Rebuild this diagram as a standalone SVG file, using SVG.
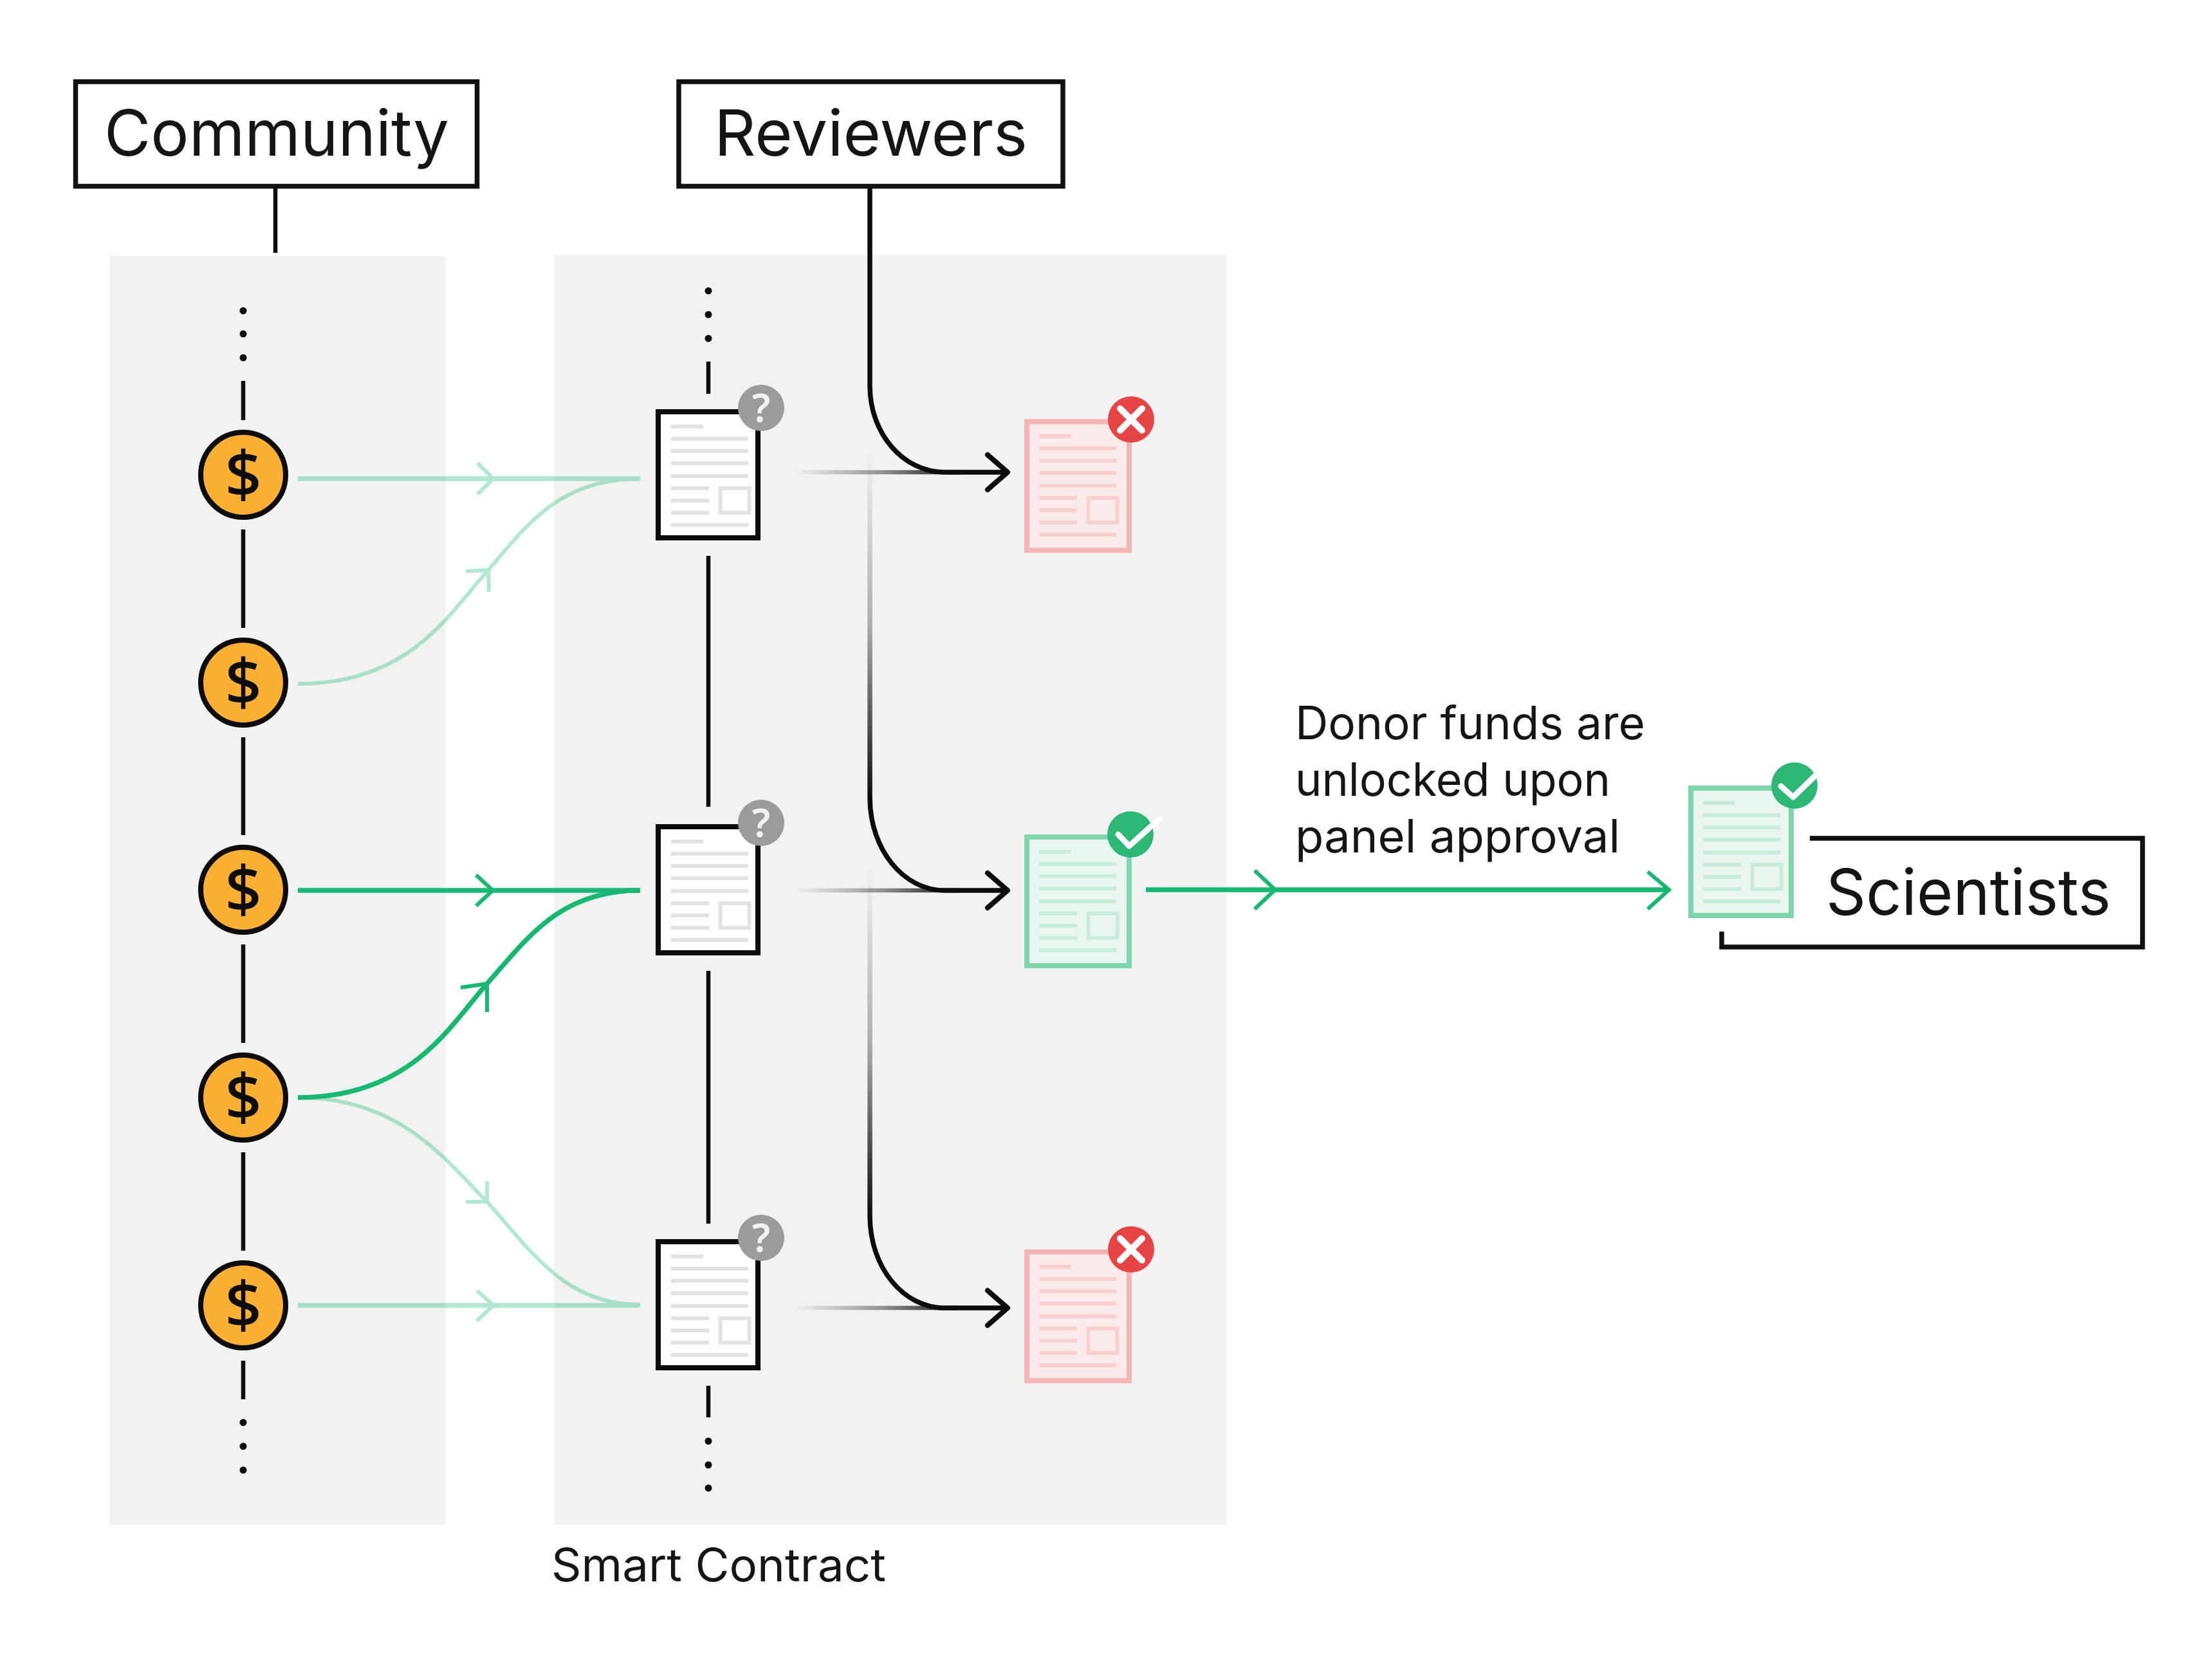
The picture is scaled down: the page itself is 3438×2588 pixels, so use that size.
<svg xmlns="http://www.w3.org/2000/svg" width="3438" height="2588" viewBox="0 0 3438 2588">
<style>
text{font-family:"Inter","Noto Sans",sans-serif;fill:#151515}
.big{font-size:99px}
.mid{font-size:71px}
.box{fill:#fff;stroke:#111;stroke-width:7.500}
.open{fill:none;stroke:#111;stroke-width:7.500}
.panel{fill:#f2f2f2}
.blk{fill:none;stroke:#0c0c0c;stroke-width:7.500}
.head{fill:none;stroke:#0c0c0c;stroke-width:8;stroke-linecap:round;stroke-linejoin:round}
.link{fill:none;stroke:#0c0c0c;stroke-width:6.500}
.dot{fill:#0c0c0c}
.grn{fill:none;stroke:#19b872;stroke-width:7.500}
.thin{stroke-width:6}
.grnhead{fill:none;stroke:#19b872;stroke-width:6}
.coin{fill:#fbb034;stroke:#0c0c0c;stroke-width:8}
.dollar{font-family:"Noto Sans",sans-serif;font-size:100px;font-weight:500;text-anchor:middle;fill:#0c0c0c}
.q{font-family:"Noto Sans",sans-serif;font-size:62px;font-weight:600;text-anchor:middle;fill:#f1f1f1}
.dw{fill:#fff;stroke:#0c0c0c;stroke-width:8}
.dr{fill:#fbeaea;stroke:#f6b5b5;stroke-width:8}
.dg{fill:#e8f6ef;stroke:#7fd5ab;stroke-width:8}
.lw{stroke:#e2e2e2}
.lr{stroke:#f9d0d0}
.lg{stroke:#c9ecd9}
.wm{fill:none;stroke:#fff;stroke-linecap:round;stroke-linejoin:round}
</style>
<defs>
<g id="lines" fill="none" stroke-width="6">
<path d="M22 26H72M22 45H142M22 64H142M22 83H142M22 103H142M22 122H81M22 141H81M22 160H81M22 179H142"/>
<rect x="98.500" y="122" width="45" height="38"/>
</g>
<linearGradient id="fh1" gradientUnits="userSpaceOnUse" x1="1235" y1="0" x2="1500" y2="0"><stop offset="0" stop-color="#0c0c0c" stop-opacity="0"/><stop offset=".5" stop-color="#0c0c0c" stop-opacity=".4"/><stop offset="1" stop-color="#0c0c0c"/></linearGradient>
<linearGradient id="fv1" gradientUnits="userSpaceOnUse" x1="0" y1="700" x2="0" y2="1240"><stop offset="0" stop-color="#0c0c0c" stop-opacity="0"/><stop offset=".5" stop-color="#0c0c0c" stop-opacity=".3"/><stop offset="1" stop-color="#0c0c0c"/></linearGradient>
<linearGradient id="fv2" gradientUnits="userSpaceOnUse" x1="0" y1="1350" x2="0" y2="1890"><stop offset="0" stop-color="#0c0c0c" stop-opacity="0"/><stop offset=".5" stop-color="#0c0c0c" stop-opacity=".3"/><stop offset="1" stop-color="#0c0c0c"/></linearGradient>
</defs>
<rect width="3438" height="2588" fill="#fff"/>
<rect class="panel" x="170" y="398" width="523" height="1972"/>
<rect class="panel" x="861" y="396" width="1045" height="1974"/>

<g id="connectors">
<path class="link" d="M428 293V393"/>
<path class="link" d="M378 592V653M378 823V976M378 1146V1298M378 1468V1621M378 1791V1944M378 2115V2175"/>
<path class="link" d="M1101 562V612M1101 864V1254M1101 1509V1902M1101 2154V2203"/>
<g class="dot">
<circle cx="378" cy="483" r="5.500"/><circle cx="378" cy="519" r="5.500"/><circle cx="378" cy="556" r="5.500"/>
<circle cx="378" cy="2211" r="5.500"/><circle cx="378" cy="2248" r="5.500"/><circle cx="378" cy="2285" r="5.500"/>
<circle cx="1101" cy="452" r="5.500"/><circle cx="1101" cy="489" r="5.500"/><circle cx="1101" cy="526" r="5.500"/>
<circle cx="1101" cy="2240" r="5.500"/><circle cx="1101" cy="2277" r="5.500"/><circle cx="1101" cy="2313" r="5.500"/>
</g>
<g opacity=".33">
<path class="grn" d="M463 744H995M463 2029H995"/>
<path class="grn thin" d="M463 1063C640 1063 700 950 759 886C820 815 870 744 995 744"/>
<path class="grn thin" d="M463 1706C620 1706 690 1800 757 1868C830 1950 880 2028 995 2028"/>
<path class="grnhead" d="M742 720L767 744L742 768M741 2006L767 2029L741 2053"/>
<path class="grnhead" d="M724 888L759 886L760 920M724 1868L757 1868L757 1836"/>
</g>
<path class="grn" d="M463 1384H995"/>
<path class="grn" d="M463 1706C640 1706 700 1593 757 1529C820 1458 870 1384 995 1384"/>
<path class="grnhead" d="M740 1360L766 1384L740 1408M716 1535L757 1529L757 1573"/>
<path class="grn" d="M1781 1383H2590"/>
<path class="grnhead" d="M1950 1353L1982 1383L1950 1413M2561 1355L2594 1383L2561 1413"/>
<path class="blk" d="M1235 734H1490M1235 1384H1490M1235 2033H1490" style="stroke:url(#fh1);stroke-width:6.500"/>
<path class="blk" d="M1352 700V1240" style="stroke:url(#fv1)"/>
<path class="blk" d="M1352 1350V1890" style="stroke:url(#fv2)"/>
<path class="blk" d="M1352 292V600C1352 674 1404 734 1468 734H1562"/>
<path class="blk" d="M1352 1240C1352 1320 1404 1384 1468 1384H1562"/>
<path class="blk" d="M1352 1890C1352 1970 1404 2033 1468 2033H1562"/>
<path class="head" d="M1535 707L1566 734L1535 761M1535 1357L1566 1384L1535 1411M1535 2006L1566 2033L1535 2060"/>
</g>

<g id="community"><rect class="box" x="117.500" y="127" width="624" height="162.500"/><text class="big" x="162" y="242" textLength="536" lengthAdjust="spacingAndGlyphs">Community</text></g>
<g id="reviewers"><rect class="box" x="1055" y="127" width="597" height="162.500"/><text class="big" x="1110" y="242" textLength="487" lengthAdjust="spacingAndGlyphs">Reviewers</text></g>
<g id="scientists"><path class="open" d="M2813 1303H3330V1472H2676V1448"/><text class="big" x="2838" y="1422" textLength="443" lengthAdjust="spacingAndGlyphs">Scientists</text></g>

<g id="coin1"><circle class="coin" cx="378" cy="738" r="66"/><text class="dollar" x="378" y="773">$</text></g>
<g id="coin2"><circle class="coin" cx="378" cy="1061" r="66"/><text class="dollar" x="378" y="1096">$</text></g>
<g id="coin3"><circle class="coin" cx="378" cy="1383" r="66"/><text class="dollar" x="378" y="1418">$</text></g>
<g id="coin4"><circle class="coin" cx="378" cy="1706" r="66"/><text class="dollar" x="378" y="1741">$</text></g>
<g id="coin5"><circle class="coin" cx="378" cy="2029" r="66"/><text class="dollar" x="378" y="2064">$</text></g>

<g id="proposal1"><rect class="dw" x="1023" y="640" width="155" height="196"/><use href="#lines" class="lw" transform="translate(1021 637)"/><circle cx="1183" cy="634" r="36" fill="#9b9b9b"/><text class="q" x="1183" y="656">?</text></g>
<g id="proposal2"><rect class="dw" x="1023" y="1285" width="155" height="196"/><use href="#lines" class="lw" transform="translate(1021 1282)"/><circle cx="1183" cy="1279" r="36" fill="#9b9b9b"/><text class="q" x="1183" y="1301">?</text></g>
<g id="proposal3"><rect class="dw" x="1023" y="1930" width="155" height="196"/><use href="#lines" class="lw" transform="translate(1021 1927)"/><circle cx="1183" cy="1924" r="36" fill="#9b9b9b"/><text class="q" x="1183" y="1946">?</text></g>

<g id="rejected1"><rect class="dr" x="1596" y="655.500" width="159" height="200"/><use href="#lines" class="lr" transform="translate(1593 652)"/><circle cx="1758" cy="652" r="36" fill="#e64545"/><path class="wm" stroke-width="10" d="M1741 635L1775 669M1775 635L1741 669"/></g>
<g id="approved"><rect class="dg" x="1596" y="1301" width="159" height="200"/><use href="#lines" class="lg" transform="translate(1593 1298)"/><circle cx="1757" cy="1297" r="36" fill="#2db777"/><path class="wm" stroke-width="9" d="M1738 1297L1755 1315L1803 1272"/></g>
<g id="rejected2"><rect class="dr" x="1596" y="1946" width="159" height="200"/><use href="#lines" class="lr" transform="translate(1593 1943)"/><circle cx="1758" cy="1942" r="36" fill="#e64545"/><path class="wm" stroke-width="10" d="M1741 1925L1775 1959M1775 1925L1741 1959"/></g>
<g id="funded"><rect class="dg" x="2628" y="1225" width="156" height="198"/><use href="#lines" class="lg" transform="translate(2625 1222)"/><circle cx="2789" cy="1221" r="36" fill="#2db777"/><path class="wm" stroke-width="9" d="M2768 1222L2787 1239L2822 1205"/></g>

<g id="labels">
<text class="mid" x="2013" y="1149" textLength="544" lengthAdjust="spacingAndGlyphs">Donor funds are</text>
<text class="mid" x="2013" y="1237" textLength="490" lengthAdjust="spacingAndGlyphs">unlocked upon</text>
<text class="mid" x="2013" y="1325" textLength="505" lengthAdjust="spacingAndGlyphs">panel approval</text>
<text class="mid" x="857" y="2458" textLength="520" lengthAdjust="spacingAndGlyphs">Smart Contract</text>
</g>
</svg>
